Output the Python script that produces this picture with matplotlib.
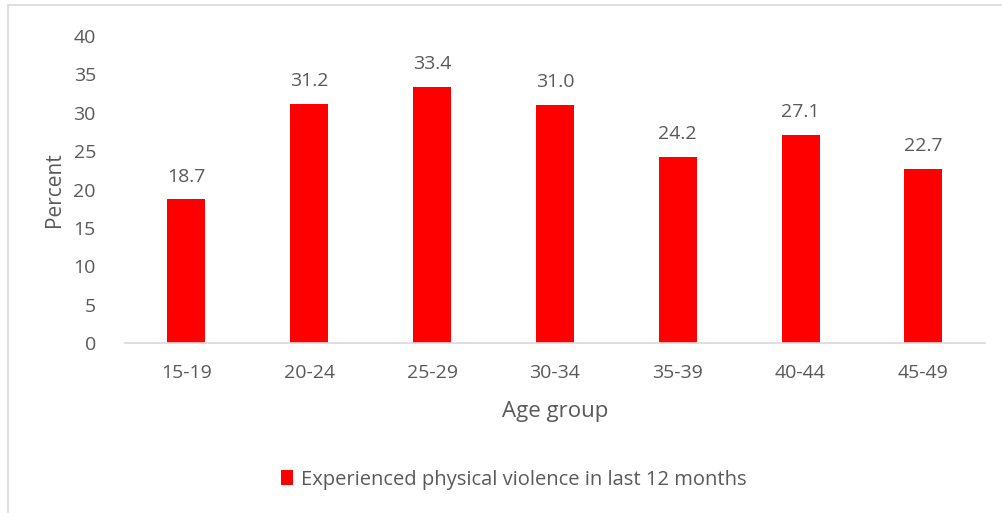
import matplotlib.pyplot as plt
from matplotlib.patches import Rectangle

# Age groups and share that experienced physical violence (%)
grupos = ['15-19', '20-24', '25-29', '30-34', '35-39', '40-44', '45-49']
percentuais = [18.7, 31.2, 33.4, 31.0, 24.2, 27.1, 22.7]
rotulos = ['18.7', '31.2', '33.4', '31.0', '24.2', '27.1', '22.7']
yticks = [0, 5, 10, 15, 20, 25, 30, 35, 40]

cinza = '#595959'
plt.rcParams['font.family'] = ['Open Sans', 'DejaVu Sans']

fig = plt.figure(figsize=(10.02, 5.13), dpi=100)
fig.patches.append(Rectangle((0.008, -0.01), 1.1, 1.0, transform=fig.transFigure,
                             fill=False, edgecolor='#d9d9d9', linewidth=1.2))

ax = fig.add_axes([0.1248, 0.3314, 0.858, 0.5984])
x = range(len(grupos))
barras = ax.bar(x, percentuais, width=0.31, color='#ff0000',
                label='Experienced physical violence in last 12 months')

for xi, v, r in zip(x, percentuais, rotulos):
    ax.text(xi, v + 1.8, r, ha='center', va='bottom', fontsize=14, color=cinza)

ax.set_xlim(-0.5, len(grupos) - 0.5)
ax.set_ylim(0, 40)
ax.set_yticks(yticks)
ax.set_xticks(list(x))
ax.set_xticklabels(grupos)
ax.tick_params(axis='both', length=0, labelsize=14, colors=cinza)
ax.tick_params(axis='y', pad=21)
ax.tick_params(axis='x', pad=15)

for s in ['top', 'right', 'left']:
    ax.spines[s].set_visible(False)
ax.spines['bottom'].set_color('#d9d9d9')
ax.spines['bottom'].set_linewidth(1.2)

ax.set_ylabel('Percent', fontsize=15, color=cinza, labelpad=6)
ax.set_xlabel('Age group', fontsize=16, color=cinza, labelpad=14)

fig.legend(handles=[barras], loc='center', bbox_to_anchor=(0.513, 0.065),
           frameon=False, fontsize=14.5, labelcolor=cinza,
           handlelength=0.6, handleheight=0.8, handletextpad=0.4)

fig.savefig('out.png', dpi=100)
